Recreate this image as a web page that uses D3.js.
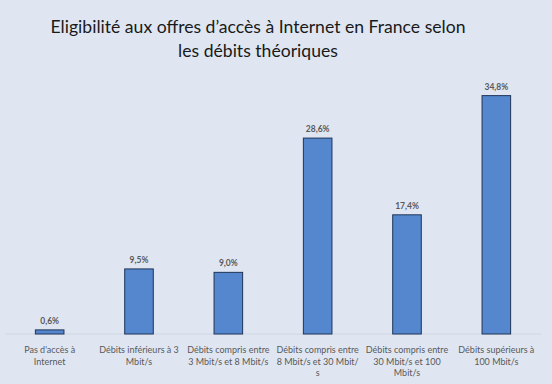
<!DOCTYPE html>
<html>
<head>
<meta charset="utf-8">
<script src="https://cdn.jsdelivr.net/npm/d3@7"></script>
<style>
  body { margin: 0; background: #dfe6f2; }
  svg { display: block; font-family: Lato, "Open Sans", sans-serif; }
</style>
</head>
<body>
<svg id="chart"></svg>
<script>
// dimensiones de la figura
const WIDTH = 552;
const HEIGHT = 384;

// datos
const categories = [
    "Pas d'accès à\nInternet",
    "Débits inférieurs à 3\nMbit/s",
    "Débits compris entre\n3 Mbit/s et 8 Mbit/s",
    "Débits compris entre\n8 Mbit/s et 30 Mbit/\ns",
    "Débits compris entre\n30 Mbit/s et 100\nMbit/s",
    "Débits supérieurs à\n100 Mbit/s"
];
const values = [0.6, 9.5, 9.0, 28.6, 17.4, 34.8];
const valueLabels = ["0,6%", "9,5%", "9,0%", "28,6%", "17,4%", "34,8%"];
const titleLines = [
    "Eligibilité aux offres d’accès à Internet en France selon",
    "les débits théoriques"
];

const svg = d3.select("#chart")
    .attr("width", WIDTH)
    .attr("height", HEIGHT);

svg.append("rect")
    .attr("width", WIDTH)
    .attr("height", HEIGHT)
    .attr("fill", "#dfe6f2");

// titulo
svg.append("g")
    .selectAll("text")
    .data(titleLines)
    .join("text")
    .attr("x", 258)
    .attr("y", (d, i) => 33 + i * 24)
    .attr("text-anchor", "middle")
    .attr("font-size", 17.6)
    .attr("fill", "#1a1a1a")
    .text(d => d);

// escalas
const escalaX = d3.scaleBand()
    .domain(categories)
    .range([5, 541])
    .padding(0);

const escalaY = d3.scaleLinear()
    .domain([0, 40])
    .range([334, 60]);

const barW = escalaX.bandwidth() * 0.32;

// linea base
svg.append("line")
    .attr("x1", 5)
    .attr("x2", 541)
    .attr("y1", escalaY(0))
    .attr("y2", escalaY(0))
    .attr("stroke", "#d0d6e0")
    .attr("stroke-width", 1);

// barras
svg.append("g")
    .selectAll("rect")
    .data(values)
    .join("rect")
    .attr("x", (d, i) => escalaX(categories[i]) + escalaX.bandwidth() / 2 - barW / 2)
    .attr("y", d => escalaY(d))
    .attr("width", barW)
    .attr("height", d => escalaY(0) - escalaY(d))
    .attr("fill", "#5487cd")
    .attr("stroke", "#1f3458")
    .attr("stroke-width", 1);

// etiquetas de valor
svg.append("g")
    .selectAll("text")
    .data(values)
    .join("text")
    .attr("x", (d, i) => escalaX(categories[i]) + escalaX.bandwidth() / 2)
    .attr("y", d => escalaY(d) - 6)
    .attr("text-anchor", "middle")
    .attr("font-size", 8.5)
    .attr("font-weight", "bold")
    .attr("fill", "#595959")
    .text((d, i) => valueLabels[i]);

// etiquetas de categoria
const etiquetas = svg.append("g")
    .selectAll("text")
    .data(categories)
    .join("text")
    .attr("x", d => escalaX(d) + escalaX.bandwidth() / 2)
    .attr("y", 353)
    .attr("text-anchor", "middle")
    .attr("font-size", 9)
    .attr("fill", "#595959");

etiquetas.selectAll("tspan")
    .data(d => d.split("\n"))
    .join("tspan")
    .attr("x", function () { return d3.select(this.parentNode).attr("x"); })
    .attr("dy", (d, i) => i === 0 ? 0 : 11.5)
    .text(d => d);
</script>
</body>
</html>
